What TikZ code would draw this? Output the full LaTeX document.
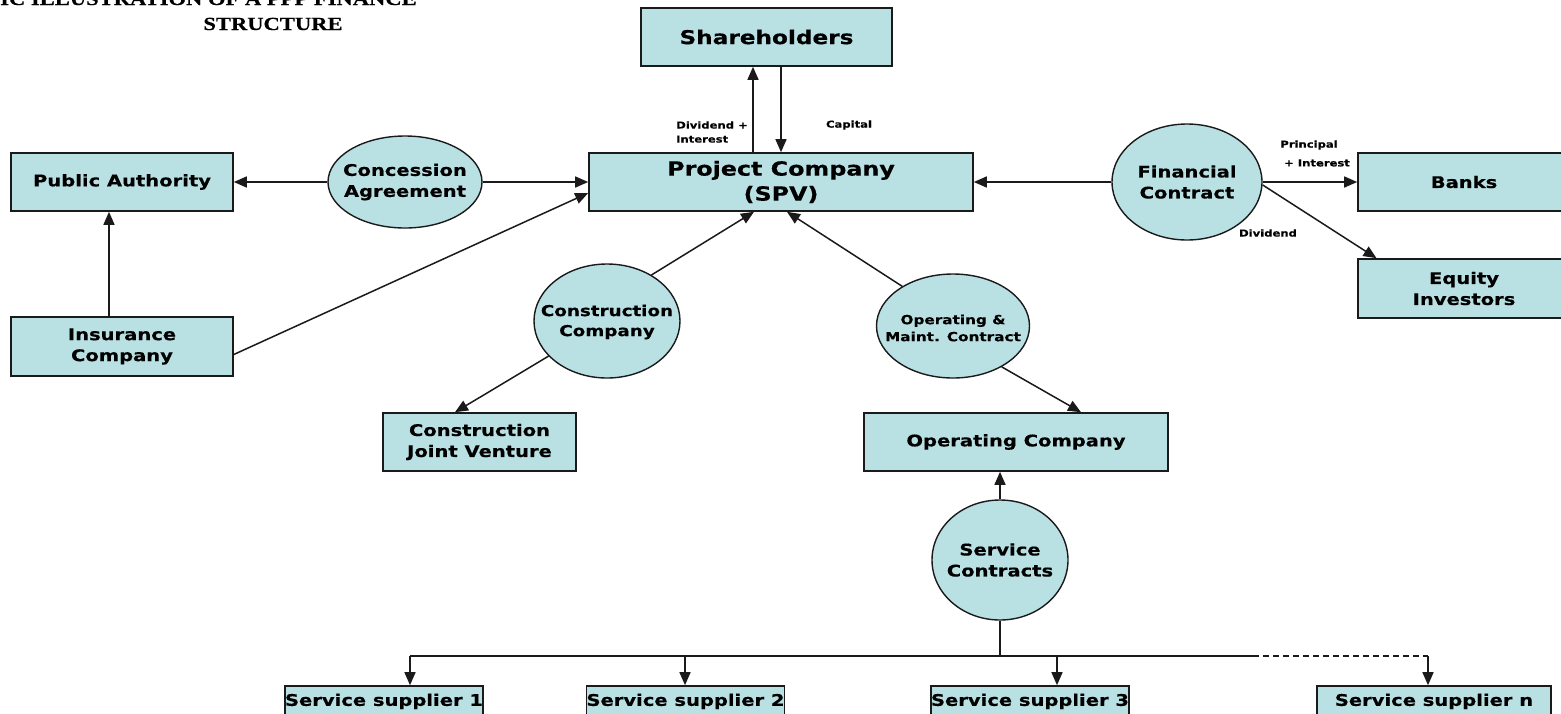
\documentclass[tikz,border=0pt]{standalone}
\usepackage{fontspec}
\setmainfont[FakeStretch=1.22, BoldFeatures={FakeBold=0.4}]{DejaVu Sans}
\newfontfamily\titlefont[FakeStretch=1.22, BoldFeatures={FakeBold=0.5}]{Liberation Serif}
\usetikzlibrary{arrows.meta,shapes.geometric}
\definecolor{boxfill}{HTML}{B9E0E3}
\definecolor{edge}{HTML}{1A1A1A}
\tikzset{
  box/.style={draw=edge, line width=1.6pt, fill=boxfill, rectangle, inner sep=0pt, align=center, font=\bfseries\fontsize{16}{21}\selectfont},
  oval/.style={draw=edge, line width=1.4pt, fill=boxfill, ellipse, inner sep=0pt},
  ovaltext/.style={inner sep=0pt, align=center, font=\bfseries\fontsize{16}{21}\selectfont},
  conn/.style={line width=1.5pt, draw=edge},
  arr/.style={conn, -{Triangle[length=13pt,width=11pt]}},
  small/.style={font=\bfseries\fontsize{9.5}{14}\selectfont, inner sep=0pt, align=left},
}
\begin{document}
\begin{tikzpicture}[x=1pt,y=-1pt]
\useasboundingbox (0,0) rectangle (1561,713);
% title
\node[anchor=base east, inner sep=0pt, font=\titlefont\bfseries\fontsize{18.5}{22}\selectfont] (t1) at (417,5) {DIAGRAMMATIC ILLUSTRATION OF A PPP FINANCE};
\node[anchor=base, inner sep=0pt, font=\titlefont\bfseries\fontsize{18.5}{22}\selectfont] (t2) at (273,30) {STRUCTURE};
% boxes
\node[box, minimum width=251pt, minimum height=58pt, font=\bfseries\fontsize{19}{25}\selectfont] (sh) at (766.5,37) {Shareholders};
\node[box, minimum width=384pt, minimum height=58pt, font=\bfseries\fontsize{19.5}{25}\selectfont] (pc) at (781,182) {Project Company\\(SPV)};
\node[box, minimum width=222pt, minimum height=58pt] (pa) at (122,182) {Public Authority};
\node[box, minimum width=222pt, minimum height=59pt] (ic) at (122,346.5) {Insurance\\Company};
\node[box, minimum width=193pt, minimum height=58pt] (cjv) at (479.5,442) {Construction\\Joint Venture};
\node[box, minimum width=304pt, minimum height=58pt] (oc) at (1016,442) {Operating Company};
\node[box, minimum width=212pt, minimum height=58pt] (banks) at (1464,182) {Banks};
\node[box, minimum width=212pt, minimum height=59pt] (eq) at (1464,288.5) {Equity\\Investors};
\node[box, minimum width=194pt, minimum height=34pt] (s1) at (384,703) {\raisebox{6.5pt}{Service supplier 1}};
\node[box, minimum width=191pt, minimum height=34pt] (s2) at (685.5,703) {\raisebox{6.5pt}{Service supplier 2}};
\node[box, minimum width=196pt, minimum height=34pt] (s3) at (1030,703) {\raisebox{6.5pt}{Service supplier 3}};
\node[box, minimum width=234pt, minimum height=34pt] (sn) at (1434,703) {\raisebox{6.5pt}{Service supplier n}};
% ellipses
\node[oval, minimum width=154pt, minimum height=92pt] (ca) at (405,182) {};
\node[ovaltext] (cat) at (ca) {Concession\\Agreement};
\node[oval, minimum width=146pt, minimum height=114pt] (cc) at (607,321) {};
\node[ovaltext, font=\bfseries\fontsize{15}{20}\selectfont] (cct) at (607,322) {Construction\\Company};
\node[oval, minimum width=153pt, minimum height=104pt] (om) at (953,326) {};
\node[ovaltext, font=\bfseries\fontsize{12.5}{17}\selectfont] (omt) at (953,328) {Operating \&\\Maint. Contract};
\node[oval, minimum width=136pt, minimum height=120pt] (sc) at (1000,560) {};
\node[ovaltext] (sct) at (sc) {Service\\Contracts};
\node[oval, minimum width=150pt, minimum height=116pt] (fc) at (1187,182) {};
\node[ovaltext] (fct) at (fc) {Financial\\Contract};
% small labels
\node[small, anchor=west] (ldiv) at (676,132) {Dividend +\\Interest};
\node[small, anchor=center] (lcap) at (849,125) {Capital};
\node[small, anchor=center] (lpri) at (1309,145) {Principal};
\node[small, anchor=center] (lint) at (1317,163) {+ Interest};
\node[small, anchor=center] (ldv2) at (1268,233) {Dividend};
% connectors
\draw[arr] ([xshift=-28pt]pc.north) -- ([xshift=-28pt]pc.north |- sh.south);
\draw[arr] (sh.south -| pc.north) -- (pc.north);
\draw[arr] (ca.west) -- (pa.east);
\draw[arr] (ca.east) -- (pc.west |- ca.east);
\draw[arr] ([yshift=-8pt]ic.east) -- ([yshift=-11pt]pc.west);
\draw[arr] ([xshift=-13pt]ic.north) -- ([xshift=-13pt]pa.south);
\draw[arr] (cc.46) -- ([xshift=-27pt]pc.south);
\draw[arr] (cc.211) -- ([xshift=-24.5pt]cjv.north);
\draw[arr] (om.142) -- ([xshift=6pt]pc.south);
\draw[arr] (om.-40) -- ([xshift=65pt]oc.north);
\draw[arr] (sc.north) -- (sc.north |- oc.south);
\draw[arr] (fc.west) -- (pc.east |- fc.west);
\draw[arr] (fc.east) -- (banks.west);
\draw[arr] ([yshift=-3pt]fc.east) -- ([xshift=-87.5pt]eq.north);
% service bus
\coordinate (bus) at (1000,656);
\coordinate (d1) at (410,656);
\coordinate (d2) at (685,656);
\coordinate (d3) at (1057,656);
\coordinate (dm) at (1253,656);
\coordinate (dn) at (1428,656);
\draw[conn] (sc.south) -- (bus);
\draw[conn] (d1) -- (dm);
\draw[conn, dashed, dash pattern=on 6pt off 4pt] (dm) -- (dn);
\draw[arr] (d1) -- (d1 |- s1.north);
\draw[arr] (d2) -- (d2 |- s2.north);
\draw[arr] (d3) -- (d3 |- s3.north);
\draw[arr] (dn) -- (dn |- sn.north);
\end{tikzpicture}
\end{document}
